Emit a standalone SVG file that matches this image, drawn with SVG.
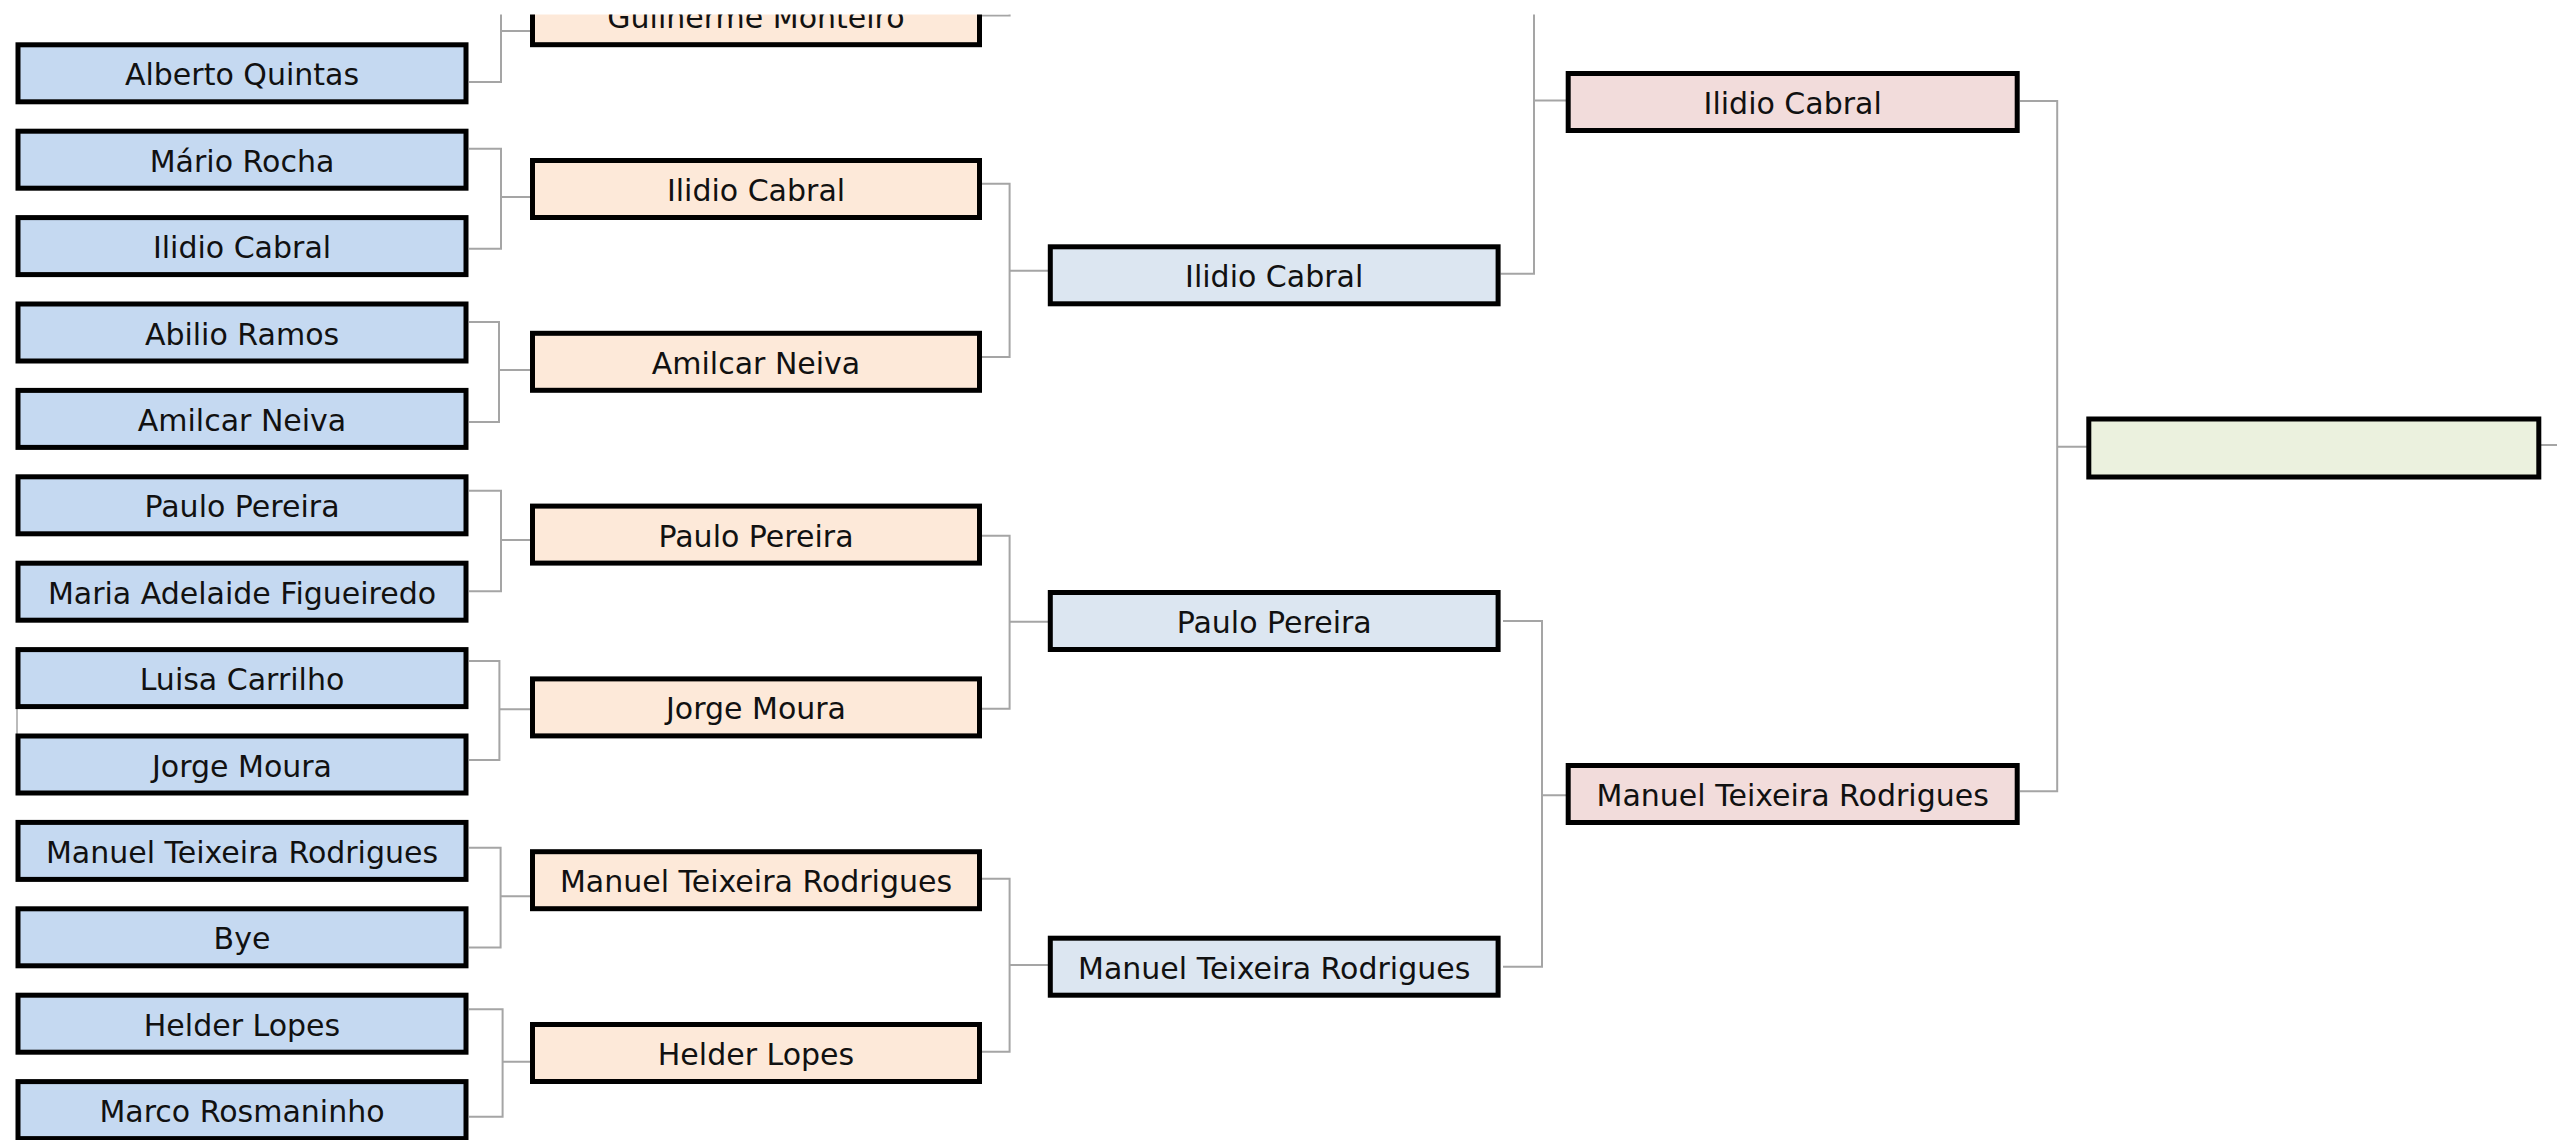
<svg xmlns="http://www.w3.org/2000/svg" width="2557" height="1140" viewBox="0 0 2557 1140">
<style>
.bg{fill:#ffffff}
.c{fill:none;stroke:#a5a5a5;stroke-width:2}
.box{stroke:#000000;stroke-width:5}
.r1{fill:#c5d9f1}
.r2{fill:#fde9d9}
.r3{fill:#dce6f1}
.r4{fill:#f2dcdb}
.r5{fill:#ebf1de}
text{font-family:"DejaVu Sans","Liberation Sans",sans-serif;font-size:30px;fill:#111111;text-anchor:middle}
</style>
<defs>
<clipPath id="view"><rect x="0" y="14.5" width="2557" height="1126"/></clipPath>
</defs>
<rect class="bg" x="0" y="0" width="2557" height="1140"/>
<g clip-path="url(#view)">
<g id="connectors">
<path class="c" d="M469,82 H501 V10 M501,31 H534"/>
<path class="c" d="M469,148.7 H501 V248.7 H469 M501,197 H534"/>
<path class="c" d="M469,322 H499 V422 H469 M499,370 H534"/>
<path class="c" d="M469,490.7 H501 V591.3 H469 M501,540 H534"/>
<path class="c" d="M469,661 H499.4 V760 H469 M499.4,709.3 H534"/>
<path class="c" d="M469,847.7 H500.6 V947.5 H469 M500.6,896.2 H534"/>
<path class="c" d="M469,1009.3 H502.6 V1116.7 H469 M502.6,1061.7 H534"/>
<path class="c" d="M982,15.5 H1009.6 V10"/>
<path class="c" d="M982,183.7 H1009.6 V357 H982 M1009.6,270.7 H1051"/>
<path class="c" d="M982,535.7 H1009.6 V708.7 H982 M1009.6,621.7 H1051"/>
<path class="c" d="M982,878.7 H1009.6 V1051.7 H982 M1009.6,965 H1051"/>
<path class="c" d="M1500.6,273.7 H1534 V10 M1534,100.5 H1568"/>
<path class="c" d="M1503,621 H1542 V966.7 H1503 M1542,795.3 H1568"/>
<path class="c" d="M2020,101 H2057.2 V791.3 H2020 M2057.2,446.7 H2089"/>
<path class="c" d="M2541,445 H2557"/>
<path class="c" style="stroke-width:1.5" d="M17,680 V760"/>
</g>
<g id="r1-alberto"><rect class="box r1" x="18" y="44.8" width="448" height="57"/><text x="242" y="85.3">Alberto Quintas</text></g>
<g id="r1-mario"><rect class="box r1" x="18" y="131.2" width="448" height="57"/><text x="242" y="171.7">Mário Rocha</text></g>
<g id="r1-ilidio"><rect class="box r1" x="18" y="217.6" width="448" height="57"/><text x="242" y="258.1">Ilidio Cabral</text></g>
<g id="r1-abilio"><rect class="box r1" x="18" y="304" width="448" height="57"/><text x="242" y="344.5">Abilio Ramos</text></g>
<g id="r1-amilcar"><rect class="box r1" x="18" y="390.4" width="448" height="57"/><text x="242" y="430.9">Amilcar Neiva</text></g>
<g id="r1-paulo"><rect class="box r1" x="18" y="476.8" width="448" height="57"/><text x="242" y="517.3">Paulo Pereira</text></g>
<g id="r1-maria"><rect class="box r1" x="18" y="563.2" width="448" height="57"/><text x="242" y="603.7">Maria Adelaide Figueiredo</text></g>
<g id="r1-luisa"><rect class="box r1" x="18" y="649.6" width="448" height="57"/><text x="242" y="690.1">Luisa Carrilho</text></g>
<g id="r1-jorge"><rect class="box r1" x="18" y="736" width="448" height="57"/><text x="242" y="776.5">Jorge Moura</text></g>
<g id="r1-manuel"><rect class="box r1" x="18" y="822.4" width="448" height="57"/><text x="242" y="862.9">Manuel Teixeira Rodrigues</text></g>
<g id="r1-bye"><rect class="box r1" x="18" y="908.8" width="448" height="57"/><text x="242" y="949.3">Bye</text></g>
<g id="r1-helder"><rect class="box r1" x="18" y="995.2" width="448" height="57"/><text x="242" y="1035.7">Helder Lopes</text></g>
<g id="r1-marco"><rect class="box r1" x="18" y="1081.6" width="448" height="57"/><text x="242" y="1122.1">Marco Rosmaninho</text></g>
<g id="r2-guilherme"><rect class="box r2" x="532.5" y="-12.3" width="447" height="57"/><text x="756" y="28.2">Guilherme Monteiro</text></g>
<g id="r2-ilidio"><rect class="box r2" x="532.5" y="160.5" width="447" height="57"/><text x="756" y="201">Ilidio Cabral</text></g>
<g id="r2-amilcar"><rect class="box r2" x="532.5" y="333.3" width="447" height="57"/><text x="756" y="373.8">Amilcar Neiva</text></g>
<g id="r2-paulo"><rect class="box r2" x="532.5" y="506.1" width="447" height="57"/><text x="756" y="546.6">Paulo Pereira</text></g>
<g id="r2-jorge"><rect class="box r2" x="532.5" y="678.9" width="447" height="57"/><text x="756" y="719.4">Jorge Moura</text></g>
<g id="r2-manuel"><rect class="box r2" x="532.5" y="851.7" width="447" height="57"/><text x="756" y="892.2">Manuel Teixeira Rodrigues</text></g>
<g id="r2-helder"><rect class="box r2" x="532.5" y="1024.5" width="447" height="57"/><text x="756" y="1065">Helder Lopes</text></g>
<g id="r3-ilidio"><rect class="box r3" x="1050.3" y="246.8" width="447.8" height="57"/><text x="1274.2" y="287.3">Ilidio Cabral</text></g>
<g id="r3-paulo"><rect class="box r3" x="1050.3" y="592.5" width="447.8" height="57"/><text x="1274.2" y="633">Paulo Pereira</text></g>
<g id="r3-manuel"><rect class="box r3" x="1050.3" y="938.2" width="447.8" height="57"/><text x="1274.2" y="978.7">Manuel Teixeira Rodrigues</text></g>
<g id="r4-ilidio"><rect class="box r4" x="1568.2" y="73.5" width="449" height="57"/><text x="1792.7" y="114">Ilidio Cabral</text></g>
<g id="r4-manuel"><rect class="box r4" x="1568.2" y="765.5" width="449" height="57"/><text x="1792.7" y="806">Manuel Teixeira Rodrigues</text></g>
<g id="final"><rect class="box r5" x="2088.8" y="419" width="450" height="58"/></g>
</g>
</svg>
